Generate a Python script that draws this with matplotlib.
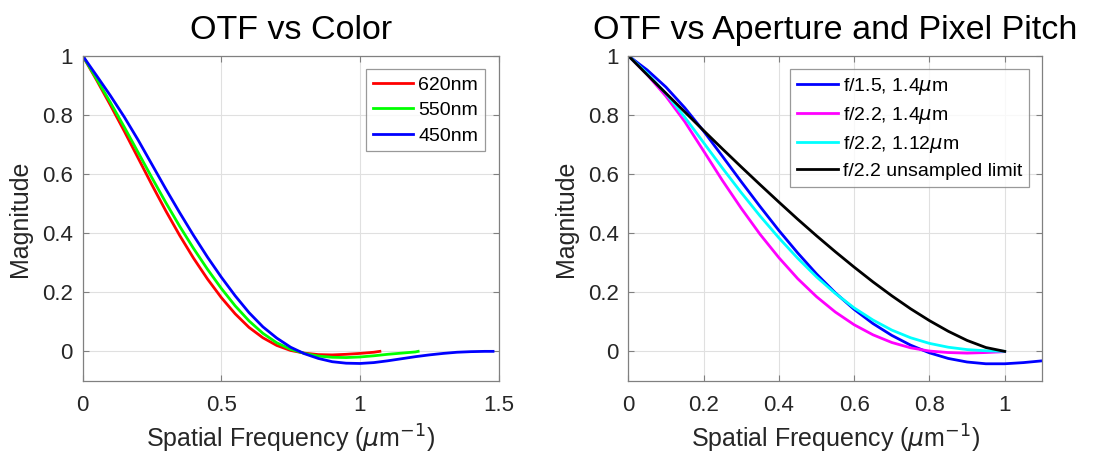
import numpy as np
import matplotlib
matplotlib.use("Agg")
import matplotlib.pyplot as plt
from matplotlib.ticker import FuncFormatter

plt.rcParams['font.family'] = ['Liberation Sans', 'DejaVu Sans']
plt.rcParams['mathtext.fontset'] = 'dejavusans'

# ---- OTF vs colour (f/1.5, 1.4um pixels) ----
freq_red = [0.00, 0.05, 0.10, 0.15, 0.20, 0.25, 0.30, 0.35, 0.40, 0.45, 0.50, 0.55,
            0.60, 0.65, 0.70, 0.75, 0.80, 0.85, 0.90, 0.95, 1.00, 1.05, 1.072]
otf_red = [1.000, 0.918, 0.833, 0.745, 0.654, 0.563, 0.475, 0.392, 0.315, 0.245, 0.182, 0.127,
           0.081, 0.046, 0.020, 0.003, -0.006, -0.011, -0.012, -0.010, -0.007, -0.003, 0.000]

freq_green = [0.00, 0.05, 0.10, 0.15, 0.20, 0.25, 0.30, 0.35, 0.40, 0.45, 0.50, 0.55,
              0.60, 0.65, 0.70, 0.75, 0.80, 0.85, 0.90, 0.95, 1.00, 1.05, 1.10, 1.15,
              1.20, 1.21]
otf_green = [1.000, 0.922, 0.842, 0.759, 0.673, 0.587, 0.503, 0.423, 0.348, 0.278, 0.213, 0.154,
             0.103, 0.061, 0.029, 0.007, -0.007, -0.016, -0.020, -0.021, -0.019, -0.015, -0.010,
             -0.006, -0.002, 0.000]

freq_blue = [0.00, 0.05, 0.10, 0.15, 0.20, 0.25, 0.30, 0.35, 0.40, 0.45, 0.50, 0.55,
             0.60, 0.65, 0.70, 0.75, 0.80, 0.85, 0.90, 0.95, 1.00, 1.05, 1.10, 1.15,
             1.20, 1.25, 1.30, 1.35, 1.40, 1.45, 1.48]
otf_blue = [1.000, 0.933, 0.865, 0.793, 0.715, 0.632, 0.549, 0.469, 0.392, 0.319, 0.251, 0.188,
            0.131, 0.083, 0.045, 0.014, -0.008, -0.024, -0.035, -0.040, -0.041, -0.038, -0.032,
            -0.025, -0.018, -0.012, -0.007, -0.003, -0.001, 0.000, 0.000]

# ---- OTF vs aperture and pixel pitch ----
freq_f15 = [0.00, 0.05, 0.10, 0.15, 0.20, 0.25, 0.30, 0.35, 0.40, 0.45, 0.50, 0.55,
            0.60, 0.65, 0.70, 0.75, 0.80, 0.85, 0.90, 0.95, 1.00, 1.05, 1.10]
otf_f15 = [1.000, 0.952, 0.894, 0.824, 0.745, 0.660, 0.574, 0.490, 0.409, 0.333, 0.262, 0.198,
           0.142, 0.094, 0.054, 0.021, -0.005, -0.024, -0.036, -0.042, -0.042, -0.038, -0.032]

freq_f22 = [0.00, 0.05, 0.10, 0.15, 0.20, 0.25, 0.30, 0.35, 0.40, 0.45, 0.50, 0.55,
            0.60, 0.65, 0.70, 0.75, 0.80, 0.85, 0.90, 0.95, 1.00]
otf_f22_14 = [1.000, 0.936, 0.863, 0.777, 0.678, 0.578, 0.484, 0.396, 0.317, 0.246, 0.185, 0.133,
              0.090, 0.056, 0.030, 0.012, 0.001, -0.004, -0.006, -0.004, -0.001]
otf_f22_112 = [1.000, 0.940, 0.872, 0.792, 0.706, 0.620, 0.537, 0.458, 0.384, 0.315, 0.252, 0.196,
               0.147, 0.106, 0.072, 0.046, 0.027, 0.014, 0.006, 0.002, 0.000]
otf_f22_limit = [1.000, 0.936, 0.873, 0.810, 0.747, 0.685, 0.624, 0.564, 0.505, 0.447, 0.391, 0.337,
                 0.285, 0.235, 0.188, 0.144, 0.104, 0.068, 0.037, 0.013, 0.000]

fmt = FuncFormatter(lambda v, p: f"{v:g}")
text_grey = '#262626'
box_grey = '#808080'


def style_axes(ax, xmax, xticks):
    ax.set_xlim(0, xmax)
    ax.set_ylim(-0.1, 1)
    ax.set_xticks(xticks)
    ax.set_yticks([0, 0.2, 0.4, 0.6, 0.8, 1])
    ax.xaxis.set_major_formatter(fmt)
    ax.yaxis.set_major_formatter(fmt)
    ax.tick_params(direction='in', top=True, right=True, length=4, width=0.8,
                   labelsize=16, color=box_grey, labelcolor=text_grey)
    ax.tick_params(axis='x', pad=10)
    ax.tick_params(axis='y', pad=7)
    for s in ax.spines.values():
        s.set_color(box_grey)
        s.set_linewidth(0.9)
    ax.grid(True, color='#e0e0e0', linewidth=0.8)
    ax.set_axisbelow(True)
    ax.set_xlabel(r'Spatial Frequency ($\mu$m$^{-1}$)', fontsize=18, color=text_grey, labelpad=5)
    ax.set_ylabel('Magnitude', fontsize=18, color=text_grey, labelpad=7)


def add_legend(ax):
    leg = ax.legend(loc='upper right', fontsize=14, frameon=True, fancybox=False,
                    edgecolor=box_grey, handlelength=2.1, handletextpad=0.25,
                    labelspacing=0.4, borderpad=0.35, borderaxespad=0.7)
    leg.get_frame().set_linewidth(0.9)


fig = plt.figure(figsize=(11.05, 4.58), dpi=100)
ax1 = fig.add_axes([0.0748, 0.1683, 0.3764, 0.710])
ax2 = fig.add_axes([0.5686, 0.1683, 0.3747, 0.710])

ax1.plot(freq_red, otf_red, color='#ff0000', lw=2, label='620nm')
ax1.plot(freq_green, otf_green, color='#00ff00', lw=2, label='550nm')
ax1.plot(freq_blue, otf_blue, color='#0000ff', lw=2, label='450nm')
style_axes(ax1, 1.5, [0, 0.5, 1, 1.5])
ax1.set_title('OTF vs Color', fontsize=24.5, pad=12)
add_legend(ax1)

ax2.plot(freq_f15, otf_f15, color='#0000ff', lw=2, label=r'f/1.5, 1.4$\mu$m')
ax2.plot(freq_f22, otf_f22_14, color='#ff00ff', lw=2, label=r'f/2.2, 1.4$\mu$m')
ax2.plot(freq_f22, otf_f22_112, color='#00ffff', lw=2, label=r'f/2.2, 1.12$\mu$m')
ax2.plot(freq_f22, otf_f22_limit, color='#000000', lw=2, label='f/2.2 unsampled limit')
style_axes(ax2, 1.1, [0, 0.2, 0.4, 0.6, 0.8, 1])
ax2.set_title('OTF vs Aperture and Pixel Pitch', fontsize=24.5, pad=12)
add_legend(ax2)

fig.savefig('out.png', dpi=100)
